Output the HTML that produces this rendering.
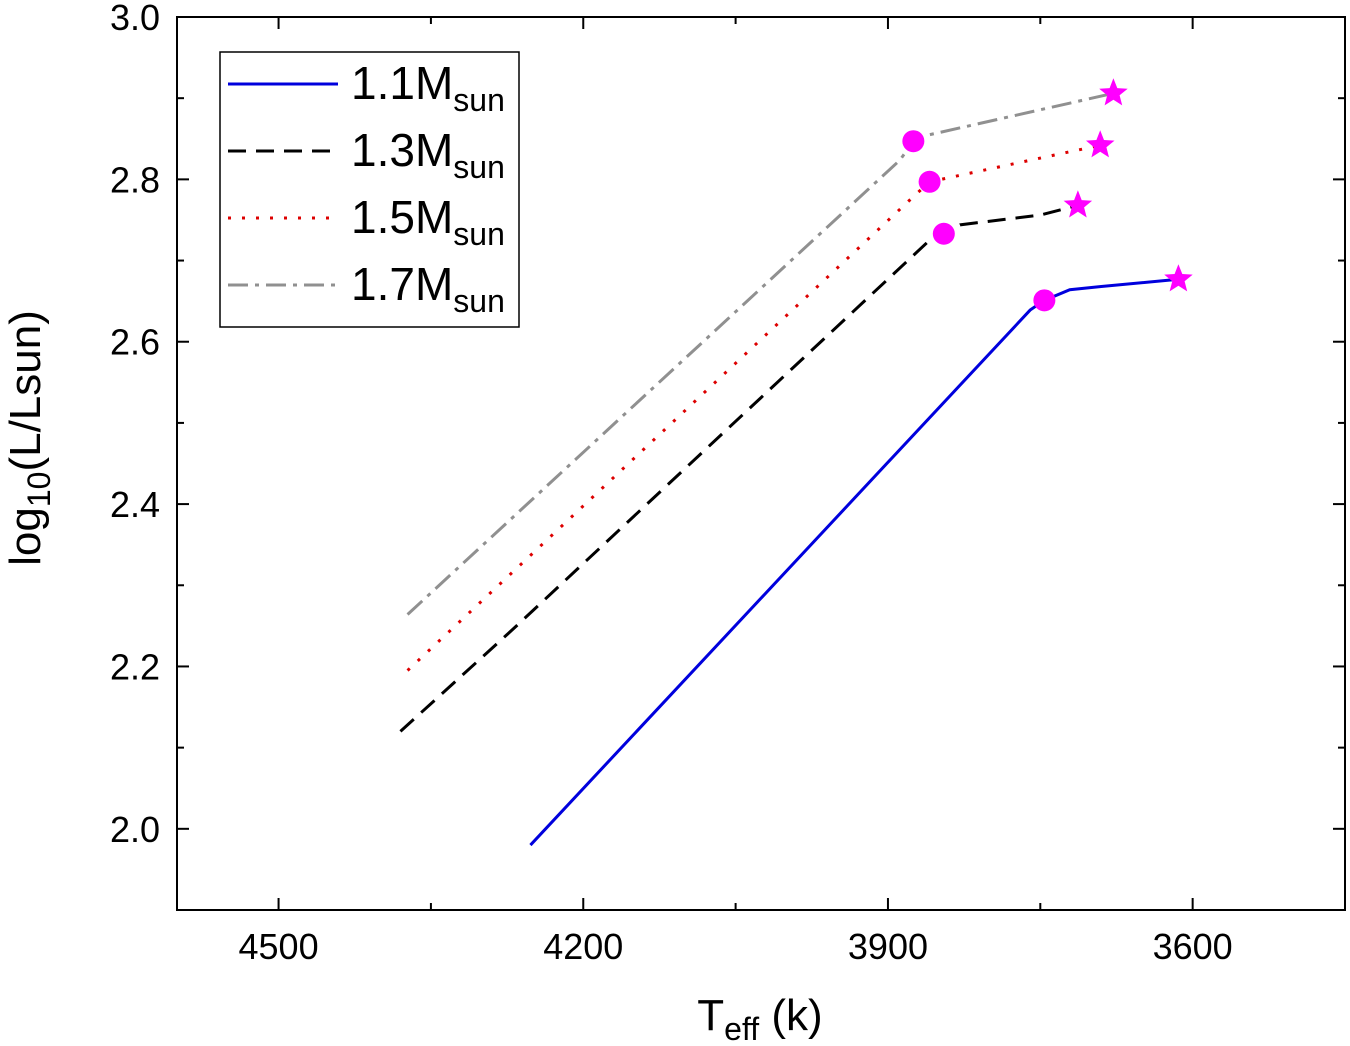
<!DOCTYPE html>
<html><head><meta charset="utf-8"><style>
body{margin:0;background:#fff;}
svg{display:block;font-family:"Liberation Sans",Arial,sans-serif;}
</style></head><body>
<svg id="chart" width="1350" height="1046" viewBox="0 0 1350 1046" xmlns="http://www.w3.org/2000/svg">
<g id="axes"></g><g id="series"></g><g id="markers"></g><g id="legend"></g>
</svg>
<script>
const xTicks=[4500,4200,3900,3600];
const xMinor=[4350,4050,3750];
const yTicks=[2.0,2.2,2.4,2.6,2.8,3.0];
const yMinor=[2.1,2.3,2.5,2.7,2.9];
const seriesNames=["1.1","1.3","1.5","1.7"];
const t11=[4252,3760,3746,3721,3690,3614];
const l11=[1.98,2.639,2.651,2.664,2.668,2.677];
const t13=[4380,4270,3859,3845,3829,3750,3713];
const l13=[2.12,2.245,2.725,2.733,2.744,2.756,2.768];
const t15=[4373,3873,3859,3691];
const l15=[2.195,2.781,2.797,2.842];
const t17=[4373,3888,3875,3859,3678];
const l17=[2.264,2.824,2.847,2.855,2.906];
const circleT=[3746,3845,3859,3875];
const circleL=[2.651,2.733,2.797,2.847];
const starT=[3614,3713,3691,3678];
const starL=[2.677,2.768,2.842,2.906];

const X0=177,X1=1345,Y0=17,Y1=910;
const TMAX=4600,TMIN=3450,LMIN=1.9,LMAX=3.0;
const sx=t=>X0+(TMAX-t)/(TMAX-TMIN)*(X1-X0);
const sy=l=>Y1-(l-LMIN)/(LMAX-LMIN)*(Y1-Y0);
const NS="http://www.w3.org/2000/svg";
function mk(tag,attrs,parent){const e=document.createElementNS(NS,tag);for(const k in attrs)e.setAttribute(k,attrs[k]);parent.appendChild(e);return e;}
const axes=document.getElementById('axes');
const frame=mk('rect',{x:X0,y:Y0,width:X1-X0,height:Y1-Y0,fill:'none',stroke:'#000','stroke-width':2},axes);


xTicks.forEach(t=>{
 const x=sx(t);
 mk('line',{x1:x,y1:Y1,x2:x,y2:Y1-12,stroke:'#000','stroke-width':2},axes);
 mk('line',{x1:x,y1:Y0,x2:x,y2:Y0+12,stroke:'#000','stroke-width':2},axes);
 const tx=mk('text',{x:x,y:959,'font-size':36,'text-anchor':'middle',fill:'#000'},axes);
 tx.textContent=t;
 
 
});
xMinor.forEach(t=>{const x=sx(t);
 mk('line',{x1:x,y1:Y1,x2:x,y2:Y1-7,stroke:'#000','stroke-width':2},axes);
 mk('line',{x1:x,y1:Y0,x2:x,y2:Y0+7,stroke:'#000','stroke-width':2},axes);});
yTicks.forEach(l=>{
 const y=sy(l);
 mk('line',{x1:X0,y1:y,x2:X0+12,y2:y,stroke:'#000','stroke-width':2},axes);
 mk('line',{x1:X1,y1:y,x2:X1-12,y2:y,stroke:'#000','stroke-width':2},axes);
 const tx=mk('text',{x:160,y:y+13,'font-size':36,'text-anchor':'end',fill:'#000'},axes);
 tx.textContent=l.toFixed(1);
 
 
});
yMinor.forEach(l=>{const y=sy(l);
 mk('line',{x1:X0,y1:y,x2:X0+7,y2:y,stroke:'#000','stroke-width':2},axes);
 mk('line',{x1:X1,y1:y,x2:X1-7,y2:y,stroke:'#000','stroke-width':2},axes);});
const xt=mk('text',{x:760,y:1030,'font-size':44,'text-anchor':'middle',fill:'#000'},axes);
xt.innerHTML='T<tspan font-size="32" dy="10">eff</tspan><tspan dy="-10">  (k)</tspan>';


const yt=mk('text',{transform:'translate(40,438) rotate(-90)','font-size':44,'text-anchor':'middle',fill:'#000'},axes);
yt.innerHTML='log<tspan font-size="32" dy="10">10</tspan><tspan dy="-10">(L/Lsun)</tspan>';



const styles=[{c:'#0000dd',d:''},{c:'#000',d:'18,10'},{c:'#dd0000',d:'3,11'},{c:'#909090',d:'20,7,4,7'}];
const data=[[t11,l11],[t13,l13],[t15,l15],[t17,l17]];
const sg=document.getElementById('series');
data.forEach((s,i)=>{
 const p=mk('polyline',{points:s[0].map((t,j)=>sx(t)+','+sy(s[1][j])).join(' '),fill:'none',stroke:styles[i].c,'stroke-width':3,'stroke-dasharray':styles[i].d},sg);
 
 
});
const mg=document.getElementById('markers');
circleT.forEach((t,i)=>{
 const c=mk('circle',{cx:sx(t),cy:sy(circleL[i]),r:11,fill:'#ff00ff'},mg);
 
 
});
function starPts(cx,cy,R,r){let p=[];for(let k=0;k<10;k++){const a=-Math.PI/2+k*Math.PI/5;const rr=k%2?r:R;p.push((cx+rr*Math.cos(a)).toFixed(1)+','+(cy+rr*Math.sin(a)).toFixed(1));}return p.join(' ');}
starT.forEach((t,i)=>{
 const s=mk('polygon',{points:starPts(sx(t),sy(starL[i]),15,6.5),fill:'#ff00ff'},mg);
 
 
});
const lg=document.getElementById('legend');
const box=mk('rect',{x:220,y:52,width:299,height:275,fill:'#fff',stroke:'#000','stroke-width':1.5},lg);


seriesNames.forEach((n,i)=>{
 const y=84+i*67;
 mk('line',{x1:228,y1:y,x2:338,y2:y,stroke:styles[i].c,'stroke-width':3,'stroke-dasharray':styles[i].d},lg);
 const t=mk('text',{x:351,y:y+15,'font-size':46,fill:'#000'},lg);
 t.innerHTML=n+'M<tspan font-size="32" dy="12">sun</tspan>';
 
 
});
</script>
</body></html>
